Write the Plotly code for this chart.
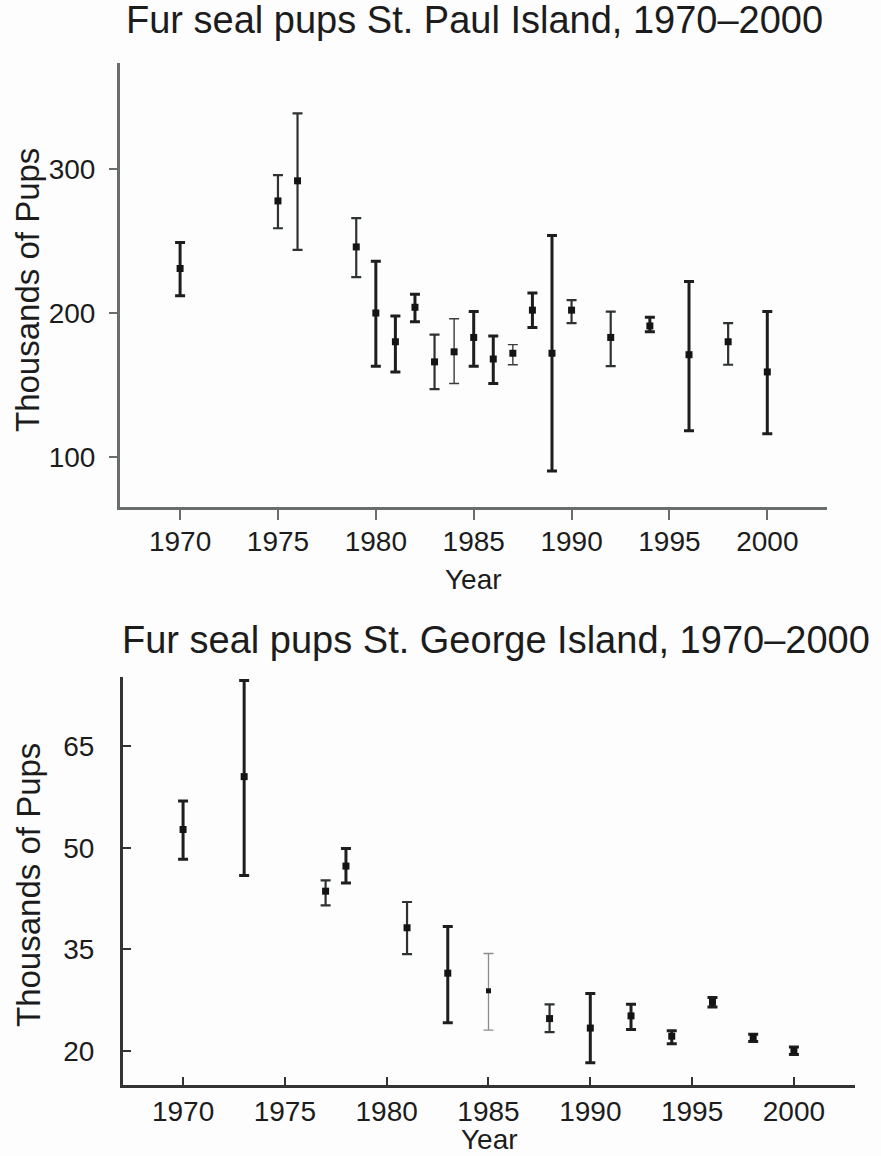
import plotly.graph_objects as go

# ---- St. Paul Island (thousands of pups) ----
paul_year = [1970, 1975, 1976, 1979, 1980, 1981, 1982, 1983, 1984, 1985, 1986, 1987,
             1988, 1989, 1990, 1992, 1994, 1996, 1998, 2000]
paul_mean = [231, 278, 292, 246, 200, 180, 204, 166, 173, 183, 168, 172,
             202, 172, 202, 183, 191, 171, 180, 159]
paul_high = [249, 296, 339, 266, 236, 198, 213, 185, 196, 201, 184, 178,
             214, 254, 209, 201, 197, 222, 193, 201]
paul_low = [212, 259, 244, 225, 163, 159, 194, 147, 151, 163, 151, 164,
            190, 90, 193, 163, 187, 118, 164, 116]

# ---- St. George Island (thousands of pups) ----
george_year = [1970, 1973, 1977, 1978, 1981, 1983, 1985, 1988, 1990, 1992, 1994, 1996, 1998, 2000]
george_mean = [52.7, 60.5, 43.6, 47.3, 38.2, 31.5, 28.9, 24.8, 23.4, 25.2, 22.2, 27.2, 22.0, 20.1]
george_high = [56.9, 74.7, 45.2, 49.9, 42.0, 38.4, 34.4, 26.9, 28.5, 26.9, 23.0, 27.9, 22.5, 20.6]
george_low = [48.3, 45.9, 41.5, 44.8, 34.3, 24.2, 23.1, 22.8, 18.3, 23.2, 21.1, 26.5, 21.4, 19.5]

x_ticks = [1970, 1975, 1980, 1985, 1990, 1995, 2000]
paul_yticks = [100, 200, 300]
george_yticks = [20, 35, 50, 65]

# stroke style class for each bar (style, not data)
paul_weight = ["k", "m", "m", "m", "k", "k", "k", "m", "t", "k", "k", "t",
               "k", "k", "m", "m", "k", "k", "m", "k"]
george_weight = ["k", "k", "m", "k", "m", "k", "l", "m", "k", "k", "k", "k", "k", "k"]
STYLES = {"k": (3.0, "#1e1e1e"), "m": (2.2, "#2e3233"), "t": (1.4, "#3a3d3e"), "l": (1.3, "#8a8c8c")}

FONT = "Liberation Sans, Arial, Helvetica, sans-serif"
TXT = "#1c1c1c"

fig = go.Figure()


def add_series(xs, ms, hs, ls, ws, xa, ya):
    for x, m, h, l, w in zip(xs, ms, hs, ls, ws):
        th, col = STYLES[w]
        fig.add_trace(go.Scatter(
            x=[x], y=[m], mode="markers", xaxis=xa, yaxis=ya, showlegend=False,
            marker=dict(symbol="square", size=7 if w != "l" else 5, color="#141414"),
            error_y=dict(type="data", symmetric=False, array=[h - m], arrayminus=[m - l],
                         thickness=th, width=5, color=col),
            hoverinfo="skip"))


add_series(paul_year, paul_mean, paul_high, paul_low, paul_weight, "x", "y")
add_series(george_year, george_mean, george_high, george_low, george_weight, "x2", "y2")

W, H = 881, 1156


def px(v):
    return v / W


def py(v):
    return 1 - v / H


axis_font = dict(family=FONT, size=28, color=TXT)

fig.update_layout(
    width=W, height=H, margin=dict(l=0, r=0, t=0, b=0),
    paper_bgcolor="#fdfdfd", plot_bgcolor="#fdfdfd",
    xaxis=dict(domain=[px(120), px(827)], anchor="y", range=[1966.93, 2003.05],
               tickvals=x_ticks, ticks="outside", ticklen=10, tickwidth=2, tickcolor="#6a6d6e",
               showline=True, linewidth=3, linecolor="#6a6d6e", showgrid=False, zeroline=False,
               tickfont=axis_font, ticklabelstandoff=-3),
    yaxis=dict(domain=[py(507), py(63)], anchor="x", range=[65, 374],
               tickvals=paul_yticks, ticks="outside", ticklen=8, tickwidth=2, tickcolor="#6a6d6e",
               showline=True, linewidth=3, linecolor="#6a6d6e", showgrid=False, zeroline=False,
               tickfont=axis_font, ticklabelstandoff=8),
    xaxis2=dict(domain=[px(123), px(855)], anchor="y2", range=[1967.05, 2003.0],
                tickvals=x_ticks, ticks="inside", ticklen=8, tickwidth=2, tickcolor="#333",
                showline=True, linewidth=3, linecolor="#333", showgrid=False, zeroline=False,
                tickfont=axis_font, ticklabelstandoff=-1),
    yaxis2=dict(domain=[py(1085), py(677)], anchor="x2", range=[15, 75.2],
                tickvals=george_yticks, ticks="inside", ticklen=8, tickwidth=2, tickcolor="#333",
                showline=True, linewidth=3, linecolor="#333", showgrid=False, zeroline=False,
                tickfont=axis_font, ticklabelstandoff=20),
)

ann = [
    ("Fur seal pups St. Paul Island, 1970–2000", 475, 20, 38, 0),
    ("Fur seal pups St. George Island, 1970–2000", 496, 640, 38, 0),
    ("Year", 473, 579, 28, 0),
    ("Year", 489, 1139, 28, 0),
    ("Thousands of Pups", 28, 290, 33, -90),
    ("Thousands of Pups", 28, 885, 33, -90),
]
for text, x, y, size, ang in ann:
    fig.add_annotation(text=text, x=px(x), y=py(y), xref="paper", yref="paper",
                       showarrow=False, textangle=ang, xanchor="center", yanchor="middle",
                       font=dict(family=FONT, size=size, color=TXT))

fig.write_html("out.html", config={"displayModeBar": False},
               post_script="document.body.style.margin='0';")
